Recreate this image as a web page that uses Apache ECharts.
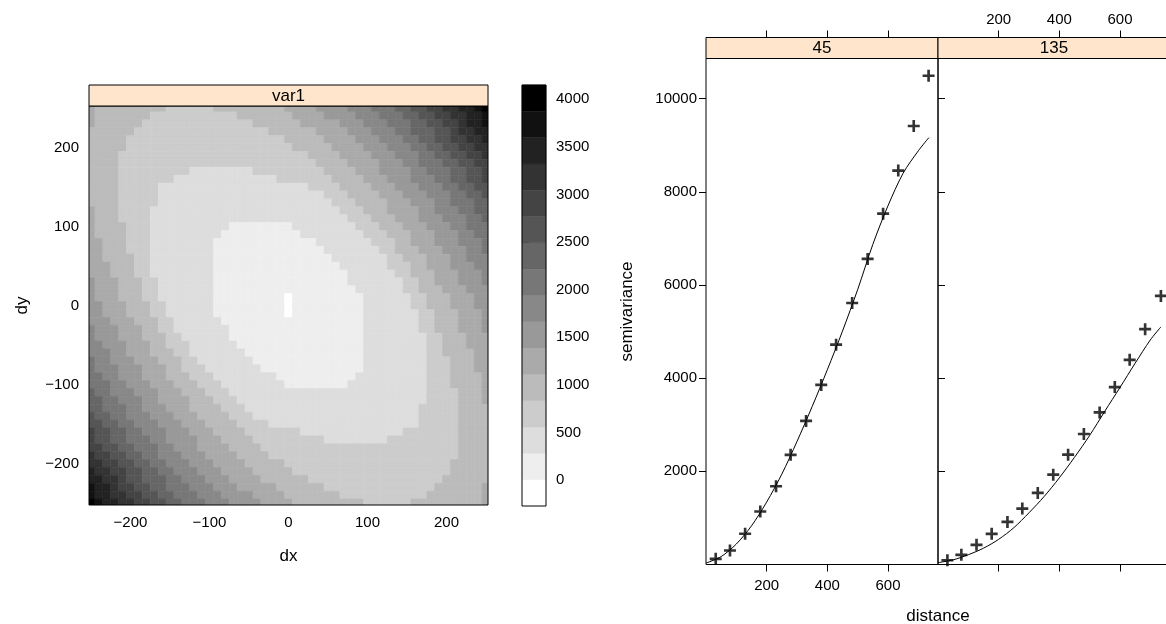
<!DOCTYPE html>
<html><head><meta charset="utf-8">
<script src="https://cdn.jsdelivr.net/npm/echarts@6/dist/echarts.min.js"></script>
<style>html,body{margin:0;padding:0;background:#fff}#c{width:1166px;height:624px}</style>
</head><body><div id="c"></div>
<script>
// ---------- DATA ----------
// variogram map: rows dy = 250 .. -250 (step 10), cells dx = -250 .. 250 (step 10)
// each token = colour level (hex digit) followed by run length
const mapRows = [
"51 49 36 49 54 64 73 83 92 A2 B2 C2 D2 E1 F1",
"51 47 311 47 54 64 73 83 92 A2 B2 C2 D2 E1",
"51 46 314 46 55 63 73 83 92 A2 B2 C1 D2 E1",
"46 317 46 54 63 73 82 93 A2 B1 C2 D2",
"45 320 45 54 63 73 82 92 A2 B2 C2 D1",
"45 321 45 54 63 73 82 92 A2 B2 C2",
"44 324 44 54 63 73 82 92 A2 B2 C1",
"44 325 44 54 63 72 83 92 A2 B2",
"44 39 28 39 44 53 64 72 83 92 A2 B1",
"44 37 213 37 44 53 63 73 82 92 A2 B1",
"44 35 219 34 44 53 63 73 82 92 A2",
"44 35 221 33 44 53 63 73 82 92 A1",
"44 35 222 33 44 53 63 72 83 92",
"51 43 34 224 33 43 54 62 73 82 92",
"51 43 34 225 33 43 53 63 73 82 91",
"51 44 33 210 18 28 33 43 53 63 72 83",
"51 44 33 29 110 28 33 43 53 63 72 82",
"52 43 33 28 113 27 33 42 53 63 73 81",
"52 43 33 28 114 27 32 43 53 63 72 81",
"52 44 32 28 115 27 32 43 53 62 73",
"53 43 32 28 116 26 33 42 53 63 72",
"53 43 32 28 117 26 32 43 53 63 71",
"61 53 43 32 27 117 27 32 42 53 63 71",
"61 53 43 32 27 118 26 32 43 53 63",
"61 53 43 32 27 19 01 19 26 32 43 53 62",
"62 53 43 32 26 19 01 19 26 32 43 53 62",
"62 53 43 32 26 19 01 19 27 32 43 53 61",
"63 53 43 32 26 118 27 32 43 53 61",
"71 63 53 42 32 27 117 27 32 43 53 61",
"71 63 53 43 32 26 117 28 32 43 53",
"72 63 53 42 33 26 116 28 32 43 53",
"73 62 53 43 32 27 115 28 32 44 52",
"81 72 63 53 43 32 27 114 28 33 43 52",
"81 73 63 53 42 33 27 113 28 33 43 52",
"82 72 63 53 43 33 28 110 29 33 44 51",
"83 72 63 53 43 33 28 18 210 33 44 51",
"91 82 73 63 53 43 33 225 34 43 51",
"92 82 73 62 54 43 33 224 34 43 51",
"92 83 72 63 53 44 33 222 35 44",
"A1 92 82 73 63 53 44 33 221 35 44",
"A2 92 82 73 63 53 44 34 219 35 44",
"B1 A2 92 82 73 63 53 44 37 213 37 44",
"B1 A2 92 83 72 64 53 44 39 28 39 44",
"B2 A2 92 83 72 63 54 44 325 44",
"C1 B2 A2 92 82 73 63 54 44 324 44",
"C2 B2 A2 92 82 73 63 54 45 321 45",
"D1 C2 B2 A2 92 82 73 63 54 45 320 45",
"D2 C2 B1 A2 93 82 73 63 54 46 317 46",
"E1 D2 C1 B2 A2 92 83 73 63 55 46 314 46 51",
"E1 D2 C2 B2 A2 92 83 73 64 54 47 311 47 51",
"F1 E1 D2 C2 B2 A2 92 83 73 64 54 49 36 49 51"
];
const levelColors = ['#FFFFFF','#EEEEEE','#DDDDDD','#CCCCCC','#BBBBBB','#AAAAAA','#999999','#888888',
                     '#777777','#666666','#555555','#444444','#333333','#222222','#111111','#000000'];
const keyBreaks = [-271.5, 4.9, 281.3, 557.6, 834.0, 1110.4, 1386.7, 1663.1, 1939.5, 2215.8,
                   2492.2, 2768.6, 3045.0, 3321.3, 3597.7, 3874.1, 4150.5];
const keyTicks = [0, 500, 1000, 1500, 2000, 2500, 3000, 3500, 4000];
const mapTicks = [-200, -100, 0, 100, 200];
const distTicks = [200, 400, 600];
const gammaTicks = [2000, 4000, 6000, 8000, 10000];

const dist45  = [32, 79, 129, 179, 231, 279, 330, 380, 429, 482, 533, 584, 634, 685, 734];
const gamma45 = [122, 300, 660, 1137, 1680, 2354, 3083, 3855, 4720, 5615, 6560, 7532, 8456, 9414, 10492];
const dist135  = [31, 77, 127, 177, 229, 278, 329, 380, 429, 481, 533, 583, 632, 683, 735];
const gamma135 = [92, 208, 422, 658, 915, 1200, 1537, 1929, 2358, 2802, 3265, 3809, 4394, 5052, 5766];
const fitDist = [0, 50, 100, 150, 200, 250, 300, 350, 400, 450, 500, 550, 600, 650, 700, 735];
const fit45   = [30, 170, 440, 830, 1340, 1940, 2640, 3390, 4180, 5010, 5900, 6870, 7700, 8400, 8880, 9165];
const fit135  = [40, 100, 210, 350, 540, 790, 1110, 1460, 1860, 2300, 2770, 3290, 3800, 4320, 4820, 5100];

const mapLim = [-252.5, 252.5];
const distLim = [0, 765];
const gammaLim = [0, 10863];

// ---------- LAYOUT ----------
const FONT = '"Liberation Sans", Arial, Helvetica, sans-serif';
const TICK_FS = 15, TITLE_FS = 17;
const STRIP_H = 21;
const MAP = {left: 89, top: 106, w: 399, h: 399};
const KEY = {left: 522, top: 85, w: 24, h: 421};
const P1 = {left: 706, top: 58.5, w: 232, h: 506};
const P2 = {left: 938, top: 58.5, w: 232, h: 506};
const STRIP_FILL = '#FFE5CC';
const CROSS = 'path://M3.9,0H6.1V10H3.9ZM0,3.9H10V6.1H0Z';

const cells = [];
mapRows.forEach((row, r) => {
  let c = 0;
  row.trim().split(/\s+/).forEach(tok => {
    const lev = parseInt(tok[0], 16), n = parseInt(tok.slice(1), 10);
    for (let k = 0; k < n; k++) { cells.push([-250 + 10 * c, 250 - 10 * r, lev]); c++; }
  });
});
const keyData = levelColors.map((col, i) => [0, keyBreaks[i], keyBreaks[i + 1], i]);

const minusFmt = v => (v < 0 ? '\u2212' + Math.abs(v) : String(v));
const lbl = (vals, show, margin) => ({
  show: show, customValues: vals, color: '#000', fontSize: TICK_FS, fontFamily: FONT,
  margin: margin, formatter: minusFmt, hideOverlap: false
});
const tck = (vals) => ({show: true, customValues: vals, length: 7, inside: false,
  lineStyle: {color: '#000', width: 1}});
function axis(gridIndex, pos, lim, ticks, showLabels, offset, margin, extra) {
  return Object.assign({
    gridIndex: gridIndex, type: 'value', position: pos, min: lim[0], max: lim[1],
    offset: offset || 0, axisLine: {show: false}, splitLine: {show: false},
    axisTick: tck(ticks), axisLabel: lbl(ticks, showLabels, margin)
  }, extra || {});
}
const gridOf = g => ({left: g.left, top: g.top, width: g.w, height: g.h,
  containLabel: false, outerBoundsMode: 'none'});

const frame = (g) => ({type: 'rect', z: 100, silent: true,
  shape: {x: g.left, y: g.top, width: g.w, height: g.h},
  style: {fill: 'none', stroke: '#000', lineWidth: 1}});
const strip = (x, y, w, txt) => ([
  {type: 'rect', z: 100, silent: true, shape: {x: x, y: y, width: w, height: STRIP_H},
   style: {fill: STRIP_FILL, stroke: '#000', lineWidth: 1}},
  {type: 'text', z: 101, silent: true, x: x + w / 2, y: y + STRIP_H / 2 + 0.5,
   style: {text: txt, fill: '#000', font: TITLE_FS + 'px ' + FONT, textAlign: 'center',
           textVerticalAlign: 'middle', verticalAlign: 'middle'}}
]);
const title = (txt, x, y, rot) => ({type: 'text', z: 101, silent: true, x: x, y: y, rotation: rot || 0,
  style: {text: txt, fill: '#000', font: TITLE_FS + 'px ' + FONT, textAlign: 'center',
          textVerticalAlign: 'middle', verticalAlign: 'middle'}});

const option = {
  animation: false,
  backgroundColor: '#fff',
  grid: [gridOf(MAP), gridOf(KEY), gridOf(P1), gridOf(P2)],
  xAxis: [
    axis(0, 'bottom', mapLim, mapTicks, true, 0, 10),
    axis(0, 'top', mapLim, mapTicks, false, STRIP_H, 8),
    axis(1, 'bottom', [0, 1], [], false, 0, 8, {axisTick: {show: false}}),
    axis(2, 'bottom', distLim, distTicks, true, 0, 14),
    axis(2, 'top', distLim, distTicks, false, STRIP_H, 8),
    axis(3, 'bottom', distLim, distTicks, false, 0, 14),
    axis(3, 'top', distLim, distTicks, true, STRIP_H, 10)
  ],
  yAxis: [
    axis(0, 'left', mapLim, mapTicks, true, 0, 10),
    axis(0, 'right', mapLim, mapTicks, false, 0, 8),
    axis(1, 'right', [keyBreaks[0], keyBreaks[keyBreaks.length - 1]], keyTicks, true, 0, 10),
    axis(2, 'left', gammaLim, gammaTicks, true, 0, 9),
    axis(3, 'right', gammaLim, gammaTicks, true, 0, 9)
  ],
  series: [
    {
      type: 'custom', xAxisIndex: 0, yAxisIndex: 0, clip: true, silent: true,
      data: cells, encode: {x: 0, y: 1},
      renderItem: (params, api) => {
        const x = api.value(0), y = api.value(1), lev = api.value(2);
        const p0 = api.coord([x - 5, y + 5]);
        const p1 = api.coord([x + 5, y - 5]);
        const col = levelColors[lev];
        return {type: 'rect', shape: {x: p0[0], y: p0[1], width: p1[0] - p0[0], height: p1[1] - p0[1]},
                style: {fill: col, stroke: col, lineWidth: 0.6}};
      }
    },
    {
      type: 'custom', xAxisIndex: 2, yAxisIndex: 2, clip: false, silent: true,
      data: keyData, encode: {x: 0, y: [1, 2]},
      renderItem: (params, api) => {
        const lo = api.value(1), hi = api.value(2), lev = api.value(3);
        const p0 = api.coord([0, hi]);
        const p1 = api.coord([1, lo]);
        const col = levelColors[lev];
        return {type: 'rect', shape: {x: p0[0], y: p0[1], width: p1[0] - p0[0], height: p1[1] - p0[1]},
                style: {fill: col, stroke: col, lineWidth: 0.4}};
      }
    },
    {
      type: 'line', xAxisIndex: 3, yAxisIndex: 3, data: fitDist.map((d, i) => [d, fit45[i]]),
      symbol: 'none', smooth: 0.3, lineStyle: {color: '#000', width: 1}, silent: true
    },
    {
      type: 'scatter', xAxisIndex: 3, yAxisIndex: 3, data: dist45.map((d, i) => [d, gamma45[i]]),
      symbol: CROSS, symbolSize: 12, itemStyle: {color: '#000'}, silent: true
    },
    {
      type: 'line', xAxisIndex: 5, yAxisIndex: 4, data: fitDist.map((d, i) => [d, fit135[i]]),
      symbol: 'none', smooth: 0.3, lineStyle: {color: '#000', width: 1}, silent: true
    },
    {
      type: 'scatter', xAxisIndex: 5, yAxisIndex: 4, data: dist135.map((d, i) => [d, gamma135[i]]),
      symbol: CROSS, symbolSize: 12, itemStyle: {color: '#000'}, silent: true
    }
  ],
  graphic: {elements: [].concat(
    [frame(MAP), frame(KEY), frame(P1), frame(P2)],
    strip(MAP.left, MAP.top - STRIP_H, MAP.w, 'var1'),
    strip(P1.left, P1.top - STRIP_H, P1.w, '45'),
    strip(P2.left, P2.top - STRIP_H, P2.w, '135'),
    [title('dx', MAP.left + MAP.w / 2, 556),
     title('dy', 22, MAP.top + MAP.h / 2, Math.PI / 2),
     title('distance', P2.left, 616),
     title('semivariance', 627, P1.top + P1.h / 2, Math.PI / 2)]
  )}
};
const chart = echarts.init(document.getElementById('c'), null, {renderer: 'canvas'});
chart.setOption(option);
</script>
</body></html>
